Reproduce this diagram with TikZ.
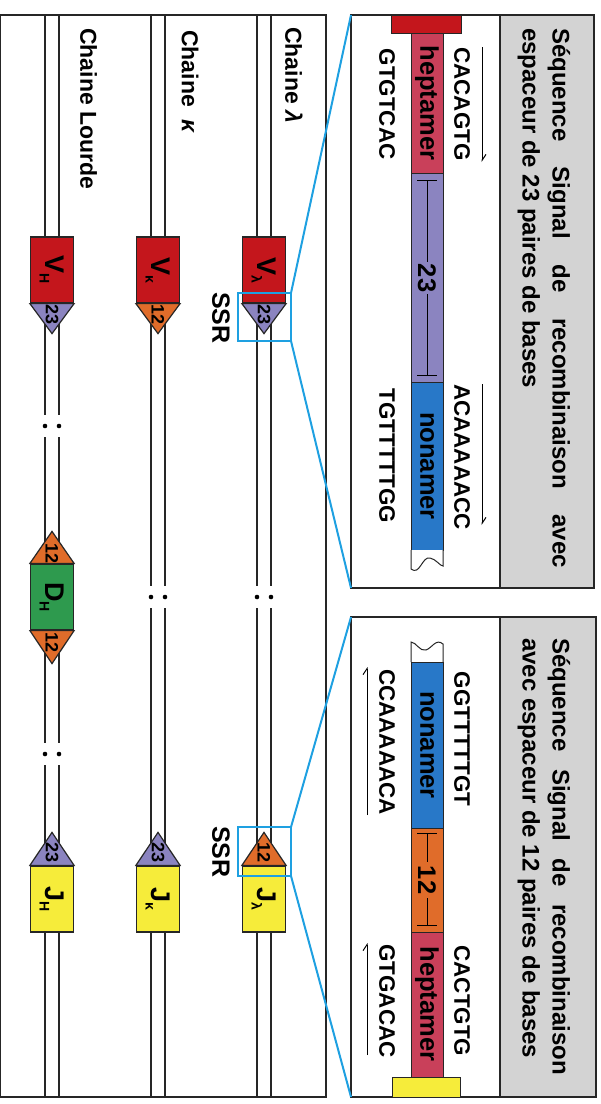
\documentclass[tikz,border=0pt]{standalone}
\usepackage{fontspec}
\setmainfont{Liberation Sans}
\usetikzlibrary{arrows.meta, calc}

\definecolor{vred}{RGB}{196,22,28}
\definecolor{rsspurple}{RGB}{139,132,192}
\definecolor{rssorange}{RGB}{224,108,42}
\definecolor{dgreen}{RGB}{46,154,78}
\definecolor{jyellow}{RGB}{246,236,58}
\definecolor{hepcol}{RGB}{201,64,90}
\definecolor{noncol}{RGB}{40,120,200}
\definecolor{panelgray}{RGB}{211,211,211}
\definecolor{zblue}{RGB}{30,160,225}

\newcommand\sub[1]{\raisebox{-6pt}{\fontsize{14}{14}\selectfont #1}}

\tikzset{
  frame/.style={draw=black!85, line width=2.4pt},
  chrom/.style={draw=black!85, line width=1.4pt},
  gene/.style={draw=black!85, line width=1.2pt, minimum width=43pt, minimum height=66pt,
    inner sep=0pt, font=\bfseries\fontsize{27}{27}\selectfont},
  rss/.style={draw=black!85, line width=1.2pt},
  num/.style={rotate=-90, inner sep=0pt, font=\bfseries\fontsize{18}{18}\selectfont},
  zoombox/.style={draw=zblue, line width=2pt, minimum width=53pt, minimum height=48pt,
    inner sep=0pt, outer sep=0pt},
  zoomline/.style={draw=zblue, line width=2pt},
  panel/.style={draw=black!85, line width=2.4pt, inner sep=0pt, outer sep=0pt},
  chainlbl/.style={rotate=-90, anchor=west, inner sep=0pt, font=\bfseries\fontsize{23}{23}\selectfont},
  ssrlbl/.style={rotate=-90, inner sep=0pt, font=\bfseries\fontsize{25}{25}\selectfont},
  seq/.style={rotate=-90, inner sep=0pt, font=\bfseries\fontsize{22.4}{22.4}\selectfont},
  barlbl/.style={rotate=-90, inner sep=0pt, font=\bfseries\fontsize{25.5}{25.5}\selectfont},
  bar/.style={draw=black!85, line width=1pt},
  strand/.style={line width=1pt, -{Straight Barb[left, length=6pt, width=8pt]}},
  title/.style={rotate=-90, inner sep=0pt, align=left, font=\bfseries\fontsize{24}{30}\selectfont},
}

\begin{document}
\begin{tikzpicture}[x=1pt, y=-1pt]
  \useasboundingbox (0,0) rectangle (601,1104);

  % chromosomes
  \foreach \cx in {45,59,151,165,257,271}
    \draw[chrom] (\cx,15) -- (\cx,1097);
  \foreach \cx/\cy in {52/426, 52/754, 158/597, 264/597}{
    \fill[white] (\cx-11,\cy-11) rectangle (\cx+11,\cy+11);
    \fill (\cx-7,\cy) circle (2.3pt) (\cx+7,\cy) circle (2.3pt);
  }
  \draw[frame] (0,15) rectangle (326,1097);

  % labels
  \node[chainlbl] (cl) at (294,27) {Chaine {\itshape λ}};
  \node[chainlbl] (ck) at (190,30) {Chaine ~{\itshape κ}};
  \node[chainlbl] (ch) at (88.5,28) {Chaine Lourde};

  % V segments
  \node[gene, fill=vred] (Vl) at (264,270) {\rotatebox{-90}{V\sub{λ}}};
  \node[gene, fill=vred] (Vk) at (158,270) {\rotatebox{-90}{V\sub{κ}}};
  \node[gene, fill=vred] (Vh) at (52,270) {\rotatebox{-90}{V\sub{H}}};
  \draw[rss, fill=rsspurple] (Vl.south west) -- (Vl.south east) -- ($(Vl.south)+(0,30)$) -- cycle;
  \draw[rss, fill=rssorange] (Vk.south west) -- (Vk.south east) -- ($(Vk.south)+(0,30)$) -- cycle;
  \draw[rss, fill=rsspurple] (Vh.south west) -- (Vh.south east) -- ($(Vh.south)+(0,30)$) -- cycle;
  \node[num] (nVl) at ($(Vl.south)+(0,11)$) {23};
  \node[num] (nVk) at ($(Vk.south)+(0,11)$) {12};
  \node[num] (nVh) at ($(Vh.south)+(0,11)$) {23};

  % D segment
  \node[gene, fill=dgreen] (Dh) at (52,597) {\rotatebox{-90}{D\sub{H}}};
  \draw[rss, fill=rssorange] (Dh.north west) -- (Dh.north east) -- ($(Dh.north)+(0,-32)$) -- cycle;
  \draw[rss, fill=rssorange] (Dh.south west) -- (Dh.south east) -- ($(Dh.south)+(0,33)$) -- cycle;
  \node[num] (nDa) at ($(Dh.north)+(0,-10)$) {12};
  \node[num] (nDb) at ($(Dh.south)+(0,12)$) {12};

  % J segments
  \node[gene, fill=jyellow] (Jl) at (264,899) {\rotatebox{-90}{J\sub{λ}}};
  \node[gene, fill=jyellow] (Jk) at (158,899) {\rotatebox{-90}{J\sub{κ}}};
  \node[gene, fill=jyellow] (Jh) at (52,899) {\rotatebox{-90}{J\sub{H}}};
  \draw[rss, fill=rssorange] (Jl.north west) -- (Jl.north east) -- ($(Jl.north)+(0,-33)$) -- cycle;
  \draw[rss, fill=rsspurple] (Jk.north west) -- (Jk.north east) -- ($(Jk.north)+(0,-33)$) -- cycle;
  \draw[rss, fill=rsspurple] (Jh.north west) -- (Jh.north east) -- ($(Jh.north)+(0,-33)$) -- cycle;
  \node[num] (nJl) at ($(Jl.north)+(0,-13)$) {12};
  \node[num] (nJk) at ($(Jk.north)+(0,-13)$) {23};
  \node[num] (nJh) at ($(Jh.north)+(0,-13)$) {23};

  \node[ssrlbl] (sV) at (221,318) {SSR};
  \node[ssrlbl] (sJ) at (221,852) {SSR};

  % panel 23
  \fill[panelgray] (500,15) rectangle (594,588);
  \draw[frame] (500,15) -- (500,588);
  \node[panel, minimum width=243pt, minimum height=573pt] (p23) at (472.5,301.5) {};
  \node[title] (t23) at (544,298)
    {\hbox to 540pt{Séquence\hfill Signal\hfill de\hfill recombinaison\hfill avec}\\
     espaceur de 23 paires de bases};
  \draw[bar, fill=vred] (391,15) rectangle (461,33);
  \draw[bar, fill=hepcol] (411,33) rectangle (443,173);
  \draw[bar, fill=rsspurple] (411,173) rectangle (443,382);
  \draw[bar, fill=noncol] (411,382) rectangle (443,550);
  \draw[bar, fill=white] (411,550) -- (411,569) .. controls (420,576) and (422,556) .. (430,558)
    .. controls (436,559) and (440,566) .. (443,566) -- (443,550);
  \node[barlbl] (h23) at (427,103) {heptamer};
  \node[barlbl] (n23) at (427,466) {nonamer};
  \node[barlbl] (sp23) at (427,278) {23};
  \draw[line width=1pt] (417,180) -- (437,180) (427,180) -- (427,262)
    (427,294) -- (427,375) (417,375) -- (437,375);
  \node[seq] (a1) at (462,104) {CACAGTG};
  \node[seq] (a2) at (387,104) {GTGTCAC};
  \node[seq] (a3) at (462,457) {ACAAAAACC};
  \node[seq] (a4) at (387,456) {TGTTTTTGG};
  \draw[strand] (482,47) -- (482,162);
  \draw[strand] (482,384) -- (482,525);

  % panel 12
  \fill[panelgray] (500,617) rectangle (596,1097);
  \draw[frame] (500,617) -- (500,1097);
  \node[panel, minimum width=245pt, minimum height=480pt] (p12) at (473.5,857) {};
  \node[title] (t12) at (544,856.5)
    {\hbox to 437pt{Séquence\hfill Signal\hfill de\hfill recombinaison}\\
     avec espaceur de 12 paires de bases};
  \draw[bar, fill=white] (411,662) -- (411,642) .. controls (416,642) and (420,652) .. (426,650)
    .. controls (432,648) and (436,638) .. (443,644) -- (443,662);
  \draw[bar, fill=noncol] (411,662) rectangle (443,828);
  \draw[bar, fill=rssorange] (411,828) rectangle (443,932);
  \draw[bar, fill=hepcol] (411,932) rectangle (443,1077);
  \draw[bar, fill=jyellow] (392,1077) rectangle (460,1097);
  \node[barlbl] (n12) at (427,745) {nonamer};
  \node[barlbl] (h12) at (427,1004) {heptamer};
  \node[barlbl] (sp12) at (427,880) {12};
  \draw[line width=1pt] (417,833) -- (437,833) (427,833) -- (427,862)
    (427,898) -- (427,925) (417,925) -- (437,925);
  \node[seq] (b1) at (462,739) {GGTTTTTGT};
  \node[seq] (b2) at (387,742) {CCAAAAACA};
  \node[seq] (b3) at (462,1001) {CACTGTG};
  \node[seq] (b4) at (387,1001) {GTGACAC};
  \draw[strand] (367,815) -- (367,667);
  \draw[strand] (367,1055) -- (367,943);

  % zoom
  \node[zoombox] (zV) at (264.5,317) {};
  \node[zoombox, minimum height=49pt] (zJ) at (264.5,851.5) {};
  \draw[zoomline] (zV.north east) -- (p23.north west);
  \draw[zoomline] (zV.south east) -- (p23.south west);
  \draw[zoomline] (zJ.north east) -- (p12.north west);
  \draw[zoomline] (zJ.south east) -- (p12.south west);
\end{tikzpicture}
\end{document}
